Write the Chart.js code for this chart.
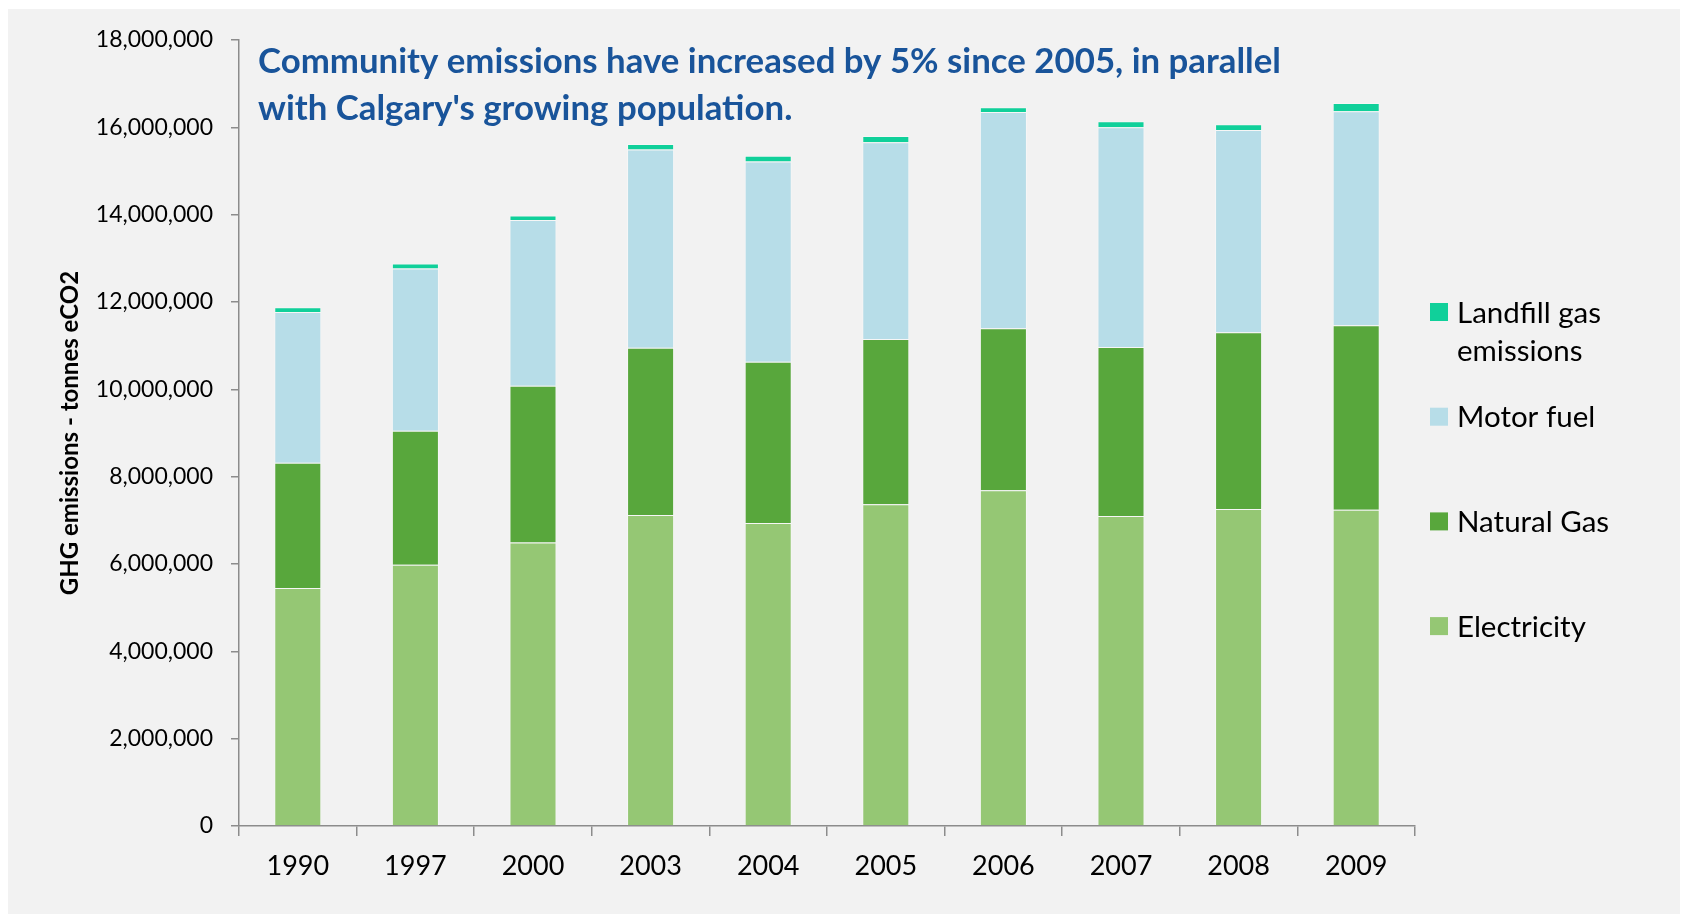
<!DOCTYPE html>
<html>
<head>
<meta charset="utf-8">
<script src="https://cdn.jsdelivr.net/npm/chart.js@4.4.1/dist/chart.umd.min.js"></script>
<style>
  html, body { margin: 0; padding: 0; background: #fff; }
  #wrap { width: 1688px; height: 914px; }
</style>
</head>
<body>
<div id="wrap"><canvas id="ghgChart" width="1688" height="914"></canvas></div>
<script>
const years = ["1990", "1997", "2000", "2003", "2004", "2005", "2006", "2007", "2008", "2009"];
// tonnes eCO2
const electricity = [5450000, 5980000, 6490000, 7120000, 6940000, 7370000, 7690000, 7100000, 7260000, 7240000];
const naturalGas = [2870000, 3070000, 3590000, 3830000, 3690000, 3780000, 3710000, 3870000, 4050000, 4230000];
const motorFuel = [3450000, 3720000, 3800000, 4540000, 4590000, 4510000, 4950000, 5030000, 4630000, 4900000];
const landfillGas = [110000, 110000, 100000, 130000, 130000, 140000, 110000, 140000, 130000, 190000];
const yMax = 18000000;
const yStep = 2000000;
const headline = [
  "Community emissions have increased by 5% since 2005, in parallel",
  "with Calgary's growing population."
];
const yAxisTitle = "GHG emissions - tonnes eCO2";

const FONT = "Lato, 'Liberation Sans', sans-serif";

// grey panel behind the chart
const panelBackground = {
  id: "panelBackground",
  beforeDraw(chart) {
    const ctx = chart.ctx;
    ctx.save();
    ctx.fillStyle = "#ffffff";
    ctx.fillRect(0, 0, chart.width, chart.height);
    ctx.fillStyle = "#f2f2f2";
    ctx.fillRect(8, 9, chart.width - 16, chart.height - 9);
    ctx.restore();
  }
};

// blue headline inside the plot area
const headlineText = {
  id: "headlineText",
  afterDatasetsDraw(chart) {
    const ctx = chart.ctx;
    const x = chart.chartArea.left + 19;
    ctx.save();
    ctx.font = "bold 100px " + FONT;
    const w = ctx.measureText(headline[0]).width;
    const size = 100 * 1023 / w;
    ctx.font = "bold " + size.toFixed(1) + "px " + FONT;
    ctx.fillStyle = "#19549a";
    ctx.textBaseline = "alphabetic";
    ctx.fillText(headline[0], x, 73);
    ctx.fillText(headline[1], x, 120);
    ctx.restore();
  }
};

// legend on the right, top series first
const sideLegend = {
  id: "sideLegend",
  afterDraw(chart) {
    const ctx = chart.ctx;
    const items = chart.data.datasets.map(ds => ({ label: ds.label, color: ds.backgroundColor })).reverse();
    const boxX = chart.chartArea.right + 15;
    const textX = boxX + 27;
    const maxW = chart.width - textX - 30;
    const fontSize = 29.5;
    ctx.save();
    ctx.font = fontSize + "px " + FONT;
    ctx.textBaseline = "alphabetic";
    items.forEach((it, i) => {
      const cy = 312 + i * 104.7;
      ctx.fillStyle = it.color;
      ctx.fillRect(boxX, cy - 9, 18, 18);
      // word wrap
      const words = it.label.split(" ");
      const lines = [];
      let cur = "";
      words.forEach(wd => {
        const test = cur ? cur + " " + wd : wd;
        if (cur && ctx.measureText(test).width > maxW) {
          lines.push(cur);
          cur = wd;
        } else {
          cur = test;
        }
      });
      lines.push(cur);
      ctx.fillStyle = "#000000";
      lines.forEach((ln, j) => {
        ctx.fillText(ln, textX, cy + fontSize * 0.36 + j * 38);
      });
    });
    ctx.restore();
  }
};

const data = {
  labels: years,
  datasets: [
    { label: "Electricity", data: electricity, backgroundColor: "#95c774" },
    { label: "Natural Gas", data: naturalGas, backgroundColor: "#58a73c" },
    { label: "Motor fuel", data: motorFuel, backgroundColor: "#b7dde8" },
    { label: "Landfill gas emissions", data: landfillGas, backgroundColor: "#10d09a" }
  ].map(ds => Object.assign(ds, {
    borderColor: "rgba(255,255,255,0.35)",
    borderWidth: 1,
    barPercentage: 0.4,
    categoryPercentage: 1.0
  }))
};

const config = {
  type: "bar",
  data: data,
  options: {
    responsive: false,
    animation: false,
    devicePixelRatio: 1,
    layout: { padding: { left: 0, top: 40, right: 273, bottom: 0 } },
    plugins: {
      legend: { display: false },
      tooltip: { enabled: false },
      title: { display: false }
    },
    scales: {
      x: {
        stacked: true,
        grid: {
          display: true,
          drawOnChartArea: false,
          drawTicks: true,
          tickLength: 10,
          color: "#8c8c8c",
          lineWidth: 1.5,
          offset: true
        },
        border: { display: true, color: "#8c8c8c", width: 1.5 },
        ticks: {
          color: "#000000",
          font: { family: FONT, size: 27 },
          padding: 14,
          maxRotation: 0
        },
        afterFit(scale) { scale.height = 88; }
      },
      y: {
        stacked: true,
        min: 0,
        max: yMax,
        grid: {
          display: true,
          drawOnChartArea: false,
          drawTicks: true,
          tickLength: 8,
          color: "#8c8c8c",
          lineWidth: 1.5
        },
        border: { display: true, color: "#8c8c8c", width: 1.5 },
        ticks: {
          stepSize: yStep,
          color: "#000000",
          font: { family: FONT, size: 23 },
          padding: 18,
          callback: v => v.toLocaleString("en-US")
        },
        title: {
          display: true,
          text: yAxisTitle,
          color: "#000000",
          font: { family: FONT, size: 24, weight: "bold" },
          padding: { top: 56, bottom: 0 }
        },
        afterFit(scale) { scale.width = 239; }
      }
    }
  },
  plugins: [panelBackground, headlineText, sideLegend]
};

const chart = new Chart(document.getElementById("ghgChart"), config);
</script>
</body>
</html>
